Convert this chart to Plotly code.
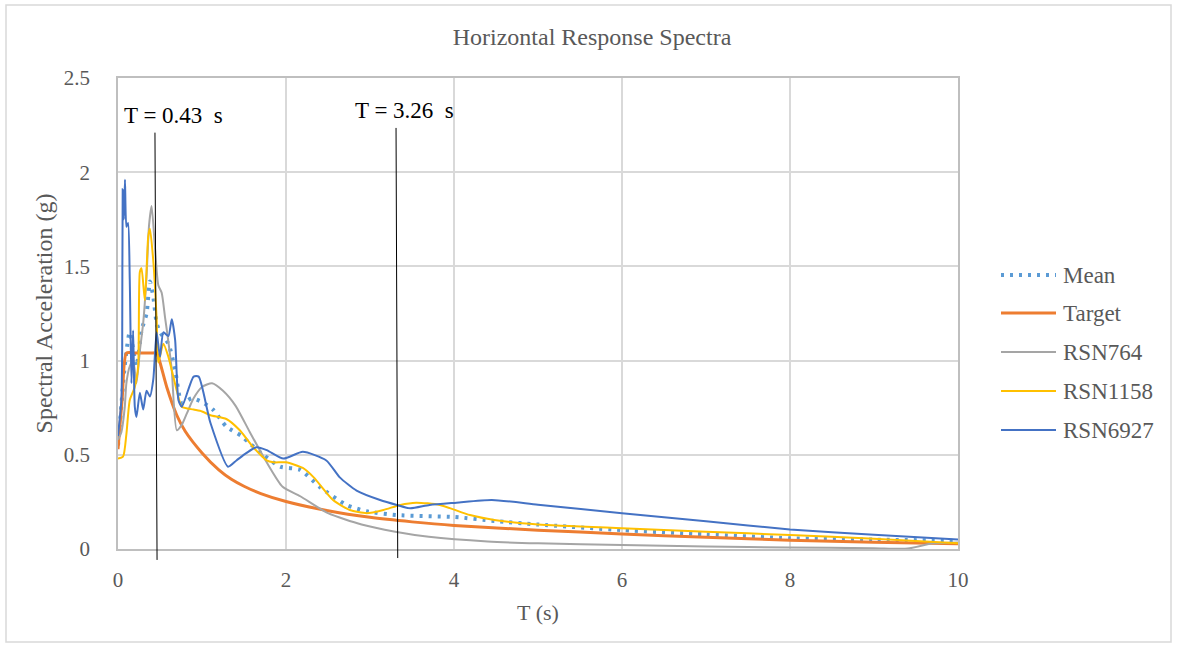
import plotly.graph_objects as go

# ---------------- data ----------------
T_TARGET = [0, 0.05, 0.1, 0.2, 0.3, 0.4, 0.46, 0.5, 0.58, 0.7, 0.8, 1.0, 1.2, 1.35, 1.5, 1.7,
            2.0, 2.5, 3.0, 3.5, 4.0, 5.0, 6.0, 7.0, 8.0, 9.0, 10.0]
SA_TARGET = [0.53, 0.80, 1.04, 1.04, 1.04, 1.04, 1.04, 0.99, 0.86, 0.71, 0.625, 0.51, 0.42, 0.37,
             0.333, 0.294, 0.252, 0.203, 0.168, 0.144, 0.125, 0.10, 0.080, 0.062, 0.047,
             0.036, 0.028]

T_764 = [0, 0.04, 0.08, 0.1, 0.14, 0.18, 0.22, 0.26, 0.3, 0.34, 0.37, 0.4, 0.44, 0.48, 0.52,
         0.56, 0.6, 0.64, 0.7, 0.76, 0.82, 0.9, 1.0, 1.12, 1.25, 1.4, 1.57, 1.77, 1.96, 2.17,
         2.5, 2.9, 3.3, 3.7, 4.4, 5, 6, 7, 8, 9, 9.4, 9.7, 10]
SA_764 = [0.58, 0.62, 0.75, 0.88, 0.97, 1.0, 0.88, 1.05, 1.2, 1.45, 1.72, 1.82, 1.6, 1.4, 1.36,
          1.23, 1.1, 0.95, 0.63, 0.66, 0.72, 0.80, 0.86, 0.88, 0.84, 0.76, 0.62, 0.46, 0.33,
          0.28, 0.19, 0.13, 0.092, 0.065, 0.04, 0.03, 0.021, 0.013, 0.008, 0.004, 0.002, 0.03, 0.035]

T_1158 = [0, 0.06, 0.1, 0.14, 0.2, 0.24, 0.26, 0.28, 0.32, 0.36, 0.38, 0.42, 0.46, 0.48, 0.54,
          0.6, 0.7, 0.76, 0.9, 1.0, 1.1, 1.29, 1.45, 1.61, 1.77, 1.85, 2.0, 2.2, 2.33, 2.56,
          2.76, 2.96, 3.16, 3.36, 3.55, 3.83, 4.19, 4.48, 5, 6, 7, 8, 9, 10]
SA_1158 = [0.48, 0.49, 0.61, 0.79, 0.86, 0.97, 1.47, 1.49, 1.32, 1.66, 1.70, 1.53, 1.22, 0.99,
           1.09, 1.02, 0.84, 0.755, 0.74, 0.73, 0.71, 0.69, 0.63, 0.54, 0.47, 0.46, 0.46, 0.43,
           0.38, 0.26, 0.207, 0.19, 0.207, 0.234, 0.246, 0.234, 0.18, 0.154, 0.13, 0.11, 0.092,
           0.074, 0.055, 0.03]

T_6927 = [0, 0.04, 0.05, 0.056, 0.07, 0.083, 0.1, 0.12, 0.14, 0.16, 0.18, 0.2, 0.22, 0.26, 0.3,
          0.34, 0.38, 0.42, 0.46, 0.5, 0.54, 0.6, 0.64, 0.68, 0.72, 0.76, 0.9, 0.96, 1.1, 1.31,
          1.41, 1.53, 1.65, 1.77, 1.97, 2.2, 2.48, 2.64, 2.84, 3.12, 3.32, 3.48, 3.71, 4.03, 4.45,
          5, 6, 7, 8, 9, 10]
SA_6927 = [0.6, 0.79, 1.07, 1.91, 1.75, 1.96, 1.71, 1.73, 1.43, 0.88, 1.16, 0.755, 0.70, 0.83,
           0.74, 0.84, 0.81, 0.90, 1.15, 1.02, 1.15, 1.13, 1.22, 1.11, 0.79, 0.755, 0.915, 0.915,
           0.67, 0.437, 0.47, 0.51, 0.54, 0.525, 0.48, 0.516, 0.47, 0.38, 0.31, 0.26, 0.234,
           0.216, 0.234, 0.246, 0.26, 0.235, 0.19, 0.147, 0.104, 0.075, 0.051]

T_MEAN = [0, 0.02, 0.08, 0.14, 0.22, 0.28, 0.34, 0.38, 0.42, 0.46, 0.5, 0.6, 0.68, 0.76, 0.88,
          1.0, 1.13, 1.29, 1.47, 1.57, 1.73, 1.93, 2.17, 2.4, 2.72, 2.96, 3.32, 4.0, 4.48, 5,
          6, 7, 8, 9, 10]
SA_MEAN = [0.55, 0.65, 0.97, 1.15, 0.97, 1.16, 1.25, 1.42, 1.34, 1.2, 1.15, 1.09, 0.95, 0.775,
           0.80, 0.78, 0.74, 0.65, 0.60, 0.56, 0.50, 0.437, 0.42, 0.33, 0.234, 0.20, 0.18, 0.17,
           0.149, 0.13, 0.10, 0.078, 0.057, 0.05, 0.044]

SERIES_NAMES = ["Mean", "Target", "RSN764", "RSN1158", "RSN6927"]

# reference period markers
MARK_LABELS = ["T = 0.43\u00a0 s", "T = 3.26\u00a0 s"]
MARK_T_TOP = [0.44, 3.31]
MARK_T_BOT = [0.465, 3.33]
MARK_Y_TOP = [2.21, 2.235]
MARK_Y_BOT = [-0.058, -0.048]
LABEL_T = [0.045, 2.80]
LABEL_Y = [2.30, 2.325]

X_TICKS = [0, 2, 4, 6, 8, 10]
Y_TICKS = [0, 0.5, 1, 1.5, 2, 2.5]
Y_TICK_TEXT = ["0", "0.5", "1", "1.5", "2", "2.5"]
X_RANGE = [0, 10]
Y_RANGE = [0, 2.5]

# ---------------- styling ----------------
FONT = "Liberation Serif"
GRAY_TXT = "#595959"
COLORS = {"Mean": "#5B9BD5", "Target": "#ED7D31", "RSN764": "#A5A5A5",
          "RSN1158": "#FFC000", "RSN6927": "#4472C4"}
WIDTHS = {"Mean": 4, "Target": 3, "RSN764": 2, "RSN1158": 2, "RSN6927": 2}
DASH = {"Mean": "3px,6px", "Target": "solid", "RSN764": "solid",
        "RSN1158": "solid", "RSN6927": "solid"}

W, H = 1177, 648
L, R, TOP, B = 118, 958, 78, 549


def pxx(xp):
    return (xp - L) / (R - L)


def pxy(yp):
    return (B - yp) / (B - TOP)


data = {
    "Mean": (T_MEAN, SA_MEAN),
    "Target": (T_TARGET, SA_TARGET),
    "RSN764": (T_764, SA_764),
    "RSN1158": (T_1158, SA_1158),
    "RSN6927": (T_6927, SA_6927),
}

fig = go.Figure()
for name in SERIES_NAMES:
    xs, ys = data[name]
    fig.add_trace(go.Scatter(
        x=xs, y=ys, mode="lines", name=name,
        line=dict(color=COLORS[name], width=WIDTHS[name], dash=DASH[name],
                  shape="spline", smoothing=0.6),
        showlegend=False, hoverinfo="skip"))

shapes = []
annotations = []

# outer chart border
shapes.append(dict(type="rect", xref="paper", yref="paper",
                   x0=pxx(6), x1=pxx(1171), y0=pxy(642), y1=pxy(5),
                   line=dict(color="#D9D9D9", width=1.5), fillcolor="rgba(0,0,0,0)",
                   layer="below"))

# vertical period markers
xspan = X_RANGE[1] - X_RANGE[0]
yspan = Y_RANGE[1] - Y_RANGE[0]
for i in range(len(MARK_LABELS)):
    shapes.append(dict(type="line", xref="paper", yref="paper",
                       x0=(MARK_T_TOP[i] - X_RANGE[0]) / xspan,
                       y0=(MARK_Y_TOP[i] - Y_RANGE[0]) / yspan,
                       x1=(MARK_T_BOT[i] - X_RANGE[0]) / xspan,
                       y1=(MARK_Y_BOT[i] - Y_RANGE[0]) / yspan,
                       line=dict(color="#000000", width=1)))
    annotations.append(dict(x=LABEL_T[i], y=LABEL_Y[i], xref="x", yref="y",
                            text=MARK_LABELS[i], showarrow=False,
                            xanchor="left", yanchor="middle",
                            font=dict(family=FONT, size=23, color="#000000")))

# manual legend
LEG_ROWS = [275, 313, 352, 391, 430]
for name, row in zip(SERIES_NAMES, LEG_ROWS):
    shapes.append(dict(type="line", xref="paper", yref="paper",
                       x0=pxx(1001), x1=pxx(1056), y0=pxy(row), y1=pxy(row),
                       line=dict(color=COLORS[name], width=WIDTHS[name] if name != "Mean" else 4,
                                 dash=DASH[name])))
    annotations.append(dict(x=pxx(1061), y=pxy(row), xref="paper", yref="paper",
                            text=name, showarrow=False, xanchor="left", yanchor="middle",
                            font=dict(family=FONT, size=23, color=GRAY_TXT)))

fig.update_layout(
    width=W, height=H,
    margin=dict(l=L, r=W - R, t=TOP, b=H - B, pad=0),
    paper_bgcolor="white", plot_bgcolor="white",
    title=dict(text="Horizontal Response Spectra", x=0.503, xref="container",
               y=1 - 37 / H, yref="container", xanchor="center", yanchor="middle",
               font=dict(family=FONT, size=24, color=GRAY_TXT)),
    font=dict(family=FONT, color=GRAY_TXT),
    shapes=shapes, annotations=annotations,
    showlegend=False,
)
fig.update_xaxes(range=X_RANGE, tickvals=X_TICKS, ticktext=[str(v) for v in X_TICKS],
                 showgrid=True, gridcolor="#D9D9D9", gridwidth=1.5,
                 showline=True, linecolor="#BFBFBF", linewidth=1.5, mirror=True,
                 zeroline=False, ticks="", ticklabelstandoff=11,
                 tickfont=dict(family=FONT, size=21, color=GRAY_TXT),
                 title=dict(text="T (s)", standoff=14,
                            font=dict(family=FONT, size=22, color=GRAY_TXT)))
fig.update_yaxes(range=Y_RANGE, tickvals=Y_TICKS, ticktext=Y_TICK_TEXT,
                 showgrid=True, gridcolor="#D9D9D9", gridwidth=1.5,
                 showline=True, linecolor="#BFBFBF", linewidth=1.5, mirror=True,
                 zeroline=False, ticks="", ticklabelstandoff=22,
                 tickfont=dict(family=FONT, size=21, color=GRAY_TXT),
                 title=dict(text="Spectral Acceleration (g)", standoff=4,
                            font=dict(family=FONT, size=24, color=GRAY_TXT)))

fig.write_html("out.html")
